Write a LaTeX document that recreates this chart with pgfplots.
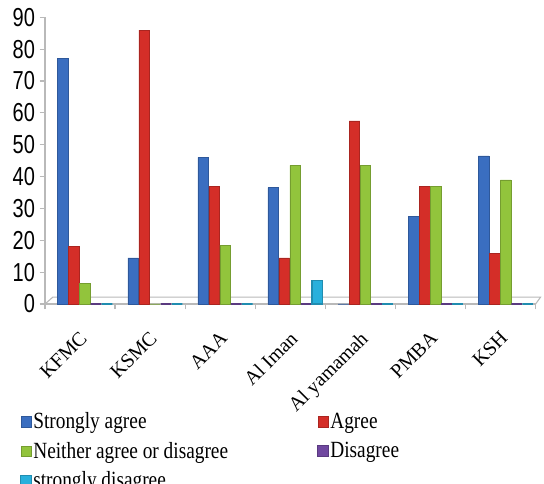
\documentclass[border=0pt]{standalone}
\usepackage{pgfplots}
\pgfplotsset{compat=1.18}
\usepackage{fontspec}
\setmainfont{Liberation Serif}
\newfontfamily\tickfont{Liberation Sans}
\definecolor{cblue}{RGB}{58,110,192}
\definecolor{cred}{RGB}{212,46,40}
\definecolor{cgreen}{RGB}{146,196,60}
\definecolor{cpurple}{RGB}{112,72,160}
\definecolor{ccyan}{RGB}{40,176,220}
\pgfplotsset{mybar/.style={ybar, bar width=8pt,
  legend image code/.code={\fill[##1] (0pt,-4pt) rectangle (8pt,4pt);}}}
\newcommand{\st}{\rule[-3.5pt]{0pt}{14.5pt}}
\newcommand{\vs}[1]{\scalebox{1}[1.2]{#1}}
\begin{document}
\begin{tikzpicture}
\begin{axis}[
  at={(0,0)}, anchor=south west,
  scale only axis, width=368pt, height=215pt,
  ymin=0, ymax=90, xmin=-0.5, xmax=6.5,
  axis x line*=bottom, axis y line*=left,
  axis line style={draw=gray!55, line width=0.9pt},
  tick align=outside, major tick length=4pt,
  tick style={draw=gray!55, line width=0.9pt},
  ytick={0,10,...,90},
  yticklabel={\scalebox{1}[1.3]{\pgfmathprintnumber{\tick}}},
  yticklabel style={font=\tickfont\fontsize{15}{15}\selectfont},
  /pgf/number format/assume math mode=true,
  xtick={-0.5,0.5,...,6.5},
  x tick label as interval,
  xticklabels={KFMC,KSMC,AAA,Al Iman,Al yamamah,PMBA,KSH},
  xticklabel style={xshift=-1pt, yshift=-14pt, rotate=45, anchor=north east, font=\fontsize{15}{15}\selectfont, inner sep=1pt},
  clip=false,
  legend columns=2,
  legend style={at={(-0.051,-0.374)}, anchor=north west, draw=none, fill=none,
    inner sep=0pt, column sep=0pt, row sep=6.5pt, font=\fontsize{14.5}{14.5}\selectfont,
    nodes={inner sep=1pt}},
  legend cell align=left,
]
\draw[gray!55, line width=0.8pt] (rel axis cs:0,0) -- (rel axis cs:0.016,0.024) -- (rel axis cs:1.01,0.024) -- (rel axis cs:1,0);
\addplot[mybar, bar shift=-12.75pt, fill=cblue, draw=cblue!80!black, line width=0.4pt]
  coordinates {(0,77) (1,14.5) (2,46) (3,36.5) (4,0) (5,27.5) (6,46.5)};
\addplot[mybar, bar shift=-4.5pt, fill=cred, draw=cred!80!black, line width=0.4pt]
  coordinates {(0,18) (1,86) (2,37) (3,14.5) (4,57.5) (5,37) (6,16)};
\addplot[mybar, bar shift=3.75pt, fill=cgreen, draw=cgreen!80!black, line width=0.4pt]
  coordinates {(0,6.5) (1,0) (2,18.5) (3,43.5) (4,43.5) (5,37) (6,39)};
\addplot[mybar, bar shift=12pt, fill=cpurple, draw=cpurple!80!black, line width=0.8pt]
  coordinates {(0,0) (1,0) (2,0) (3,0) (4,0) (5,0) (6,0)};
\addplot[mybar, bar shift=20.25pt, fill=ccyan, draw=ccyan!80!black, line width=0.8pt]
  coordinates {(0,0) (1,0) (2,0) (3,7.5) (4,0) (5,0) (6,0)};
\legend{\makebox[212pt][l]{\st\vs{Strongly agree}}, \st\vs{Agree},
  \makebox[212pt][l]{\st\vs{Neither agree or disagree}}, \st\vs{Disagree},
  \makebox[212pt][l]{\st\vs{strongly disagree}}}
\end{axis}
\pgfresetboundingbox
\path (-33.75pt,-135pt) rectangle (374.25pt,228pt);
\end{tikzpicture}
\end{document}
